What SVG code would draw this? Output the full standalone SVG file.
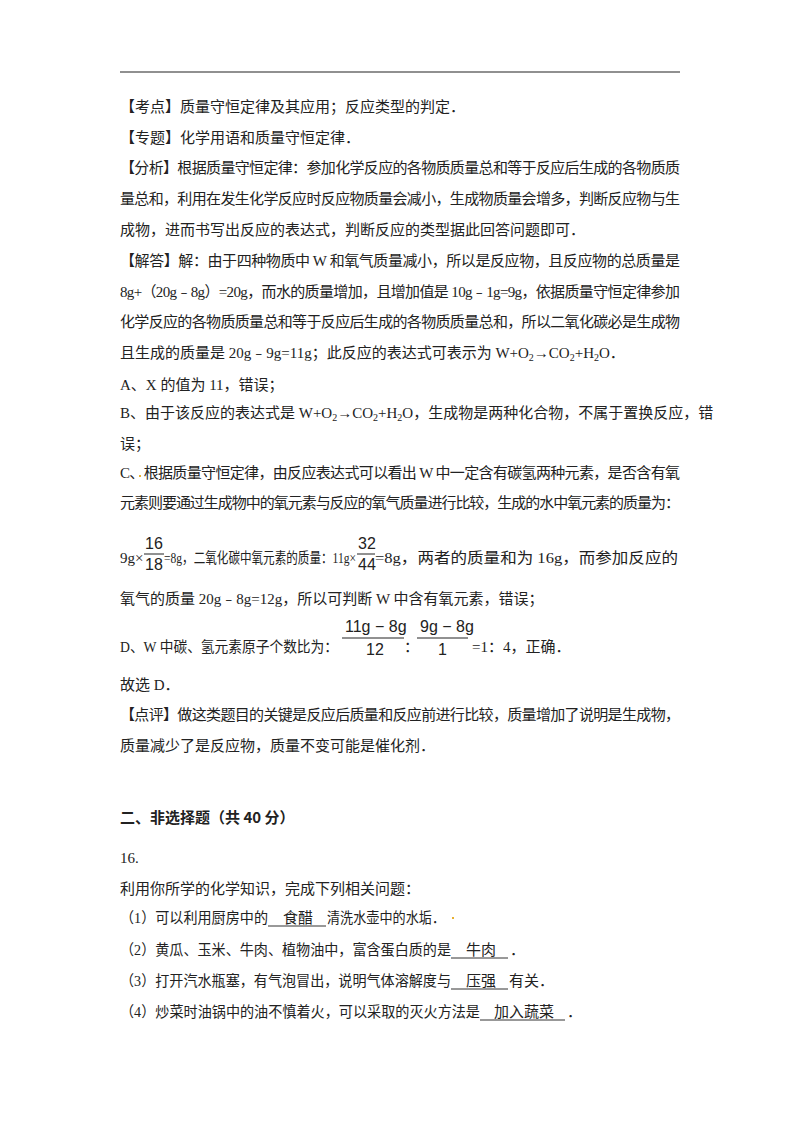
<svg xmlns="http://www.w3.org/2000/svg" width="800" height="1132" viewBox="0 0 800 1132">
<style>
text{font-family:"Liberation Serif","Noto Sans CJK SC",serif;font-size:15px;fill:#222}
text[textLength]{}
.b{font-family:"Noto Sans CJK SC",sans-serif;font-weight:bold}
.f{font-family:"Liberation Sans",sans-serif;font-size:16px}
.u{stroke:#333;stroke-width:1}
</style>
<rect width="800" height="1132" fill="#fff"/>
<line x1="120" y1="72" x2="680" y2="72" stroke="#222" stroke-width="1.2"/>
<text x="120" y="112">【考点】质量守恒定律及其应用；反应类型的判定．</text>
<text x="120" y="143">【专题】化学用语和质量守恒定律．</text>
<text x="120" y="173" textLength="560">【分析】根据质量守恒定律：参加化学反应的各物质质量总和等于反应后生成的各物质质</text>
<text x="120" y="204" textLength="560">量总和，利用在发生化学反应时反应物质量会减小，生成物质量会增多，判断反应物与生</text>
<text x="120" y="235">成物，进而书写出反应的表达式，判断反应的类型据此回答问题即可．</text>
<text x="120" y="266" textLength="560">【解答】解：由于四种物质中 W 和氧气质量减小，所以是反应物，且反应物的总质量是</text>
<text x="120" y="297" textLength="560">8g+（20g﹣8g）=20g，而水的质量增加，且增加值是 10g﹣1g=9g，依据质量守恒定律参加</text>
<text x="120" y="327" textLength="560">化学反应的各物质质量总和等于反应后生成的各物质质量总和，所以二氧化碳必是生成物</text>
<text x="120" y="358">且生成的质量是 20g﹣9g=11g；此反应的表达式可表示为 W+O<tspan font-size="10" dy="3">2</tspan><tspan dy="-3">→CO</tspan><tspan font-size="10" dy="3">2</tspan><tspan dy="-3">+H</tspan><tspan font-size="10" dy="3">2</tspan><tspan dy="-3">O．</tspan></text>
<text x="120" y="390">A、X 的值为 11，错误；</text>
<text x="120" y="418">B、由于该反应的表达式是 W+O<tspan font-size="10" dy="3">2</tspan><tspan dy="-3">→CO</tspan><tspan font-size="10" dy="3">2</tspan><tspan dy="-3">+H</tspan><tspan font-size="10" dy="3">2</tspan><tspan dy="-3">O，生成物是两种化合物，不属于置换反应，错</tspan></text>
<text x="120" y="449">误；</text>
<text x="120" y="478" textLength="560">C、根据质量守恒定律，由反应表达式可以看出 W 中一定含有碳氢两种元素，是否含有氧</text>
<rect x="139" y="475" width="2" height="2" fill="#e8b030"/>
<text x="120" y="508" textLength="560">元素则要通过生成物中的氧元素与反应的氧气质量进行比较，生成的水中氧元素的质量为：</text>
<g>
<text x="120" y="563" font-size="14">9g×</text>
<text x="145" y="549" class="f">16</text>
<line x1="144" y1="554" x2="164" y2="554" stroke="#222"/>
<text x="145" y="570" class="f">18</text>
<text x="164" y="563" font-size="13" textLength="192" lengthAdjust="spacingAndGlyphs">=8g，二氧化碳中氧元素的质量：11g×</text>
<text x="358" y="549" class="f">32</text>
<line x1="357" y1="554" x2="375" y2="554" stroke="#222"/>
<text x="358" y="570" class="f">44</text>
<text x="375" y="563" textLength="303" lengthAdjust="spacingAndGlyphs">=8g，两者的质量和为 16g，而参加反应的</text>
</g>
<text x="120" y="604">氧气的质量 20g﹣8g=12g，所以可判断 W 中含有氧元素，错误；</text>
<g>
<text x="120" y="652" textLength="218" lengthAdjust="spacingAndGlyphs">D、W 中碳、氢元素原子个数比为：</text>
<text x="345" y="632" class="f">11g − 8g</text>
<line x1="342" y1="638" x2="404" y2="638" stroke="#222"/>
<text x="366" y="655" class="f">12</text>
<text x="404" y="652">：</text>
<text x="420" y="632" class="f">9g − 8g</text>
<line x1="417" y1="638" x2="468" y2="638" stroke="#222"/>
<text x="438" y="655" class="f">1</text>
<text x="472" y="652">=1：4，正确．</text>
</g>
<text x="120" y="690">故选 D．</text>
<text x="120" y="720" textLength="560">【点评】做这类题目的关键是反应后质量和反应前进行比较，质量增加了说明是生成物，</text>
<text x="120" y="751">质量减少了是反应物，质量不变可能是催化剂．</text>
<text x="120" y="823" class="b">二、非选择题（共 40 分）</text>
<text x="120" y="863">16.</text>
<text x="120" y="894">利用你所学的化学知识，完成下列相关问题：</text>
<text x="120" y="923" textLength="148" lengthAdjust="spacingAndGlyphs">（1）可以利用厨房中的</text>
<text x="283" y="923">食醋</text>
<text x="327" y="923" textLength="118" lengthAdjust="spacingAndGlyphs">清洗水壶中的水垢．</text>
<line class="u" x1="268" y1="926" x2="326" y2="926"/>
<rect x="452" y="917" width="2" height="2" fill="#e8b030"/>
<text x="120" y="955" textLength="331" lengthAdjust="spacingAndGlyphs">（2）黄瓜、玉米、牛肉、植物油中，富含蛋白质的是</text>
<text x="466" y="955">牛肉</text>
<text x="510" y="955">．</text>
<line class="u" x1="451" y1="958" x2="508" y2="958"/>
<text x="120" y="986" textLength="331" lengthAdjust="spacingAndGlyphs">（3）打开汽水瓶塞，有气泡冒出，说明气体溶解度与</text>
<text x="466" y="986">压强</text>
<text x="509" y="986">有关．</text>
<line class="u" x1="451" y1="989" x2="508" y2="989"/>
<text x="120" y="1017" textLength="360" lengthAdjust="spacingAndGlyphs">（4）炒菜时油锅中的油不慎着火，可以采取的灭火方法是</text>
<text x="494" y="1017">加入蔬菜</text>
<text x="567" y="1017">．</text>
<line class="u" x1="480" y1="1020" x2="565" y2="1020"/>
</svg>
